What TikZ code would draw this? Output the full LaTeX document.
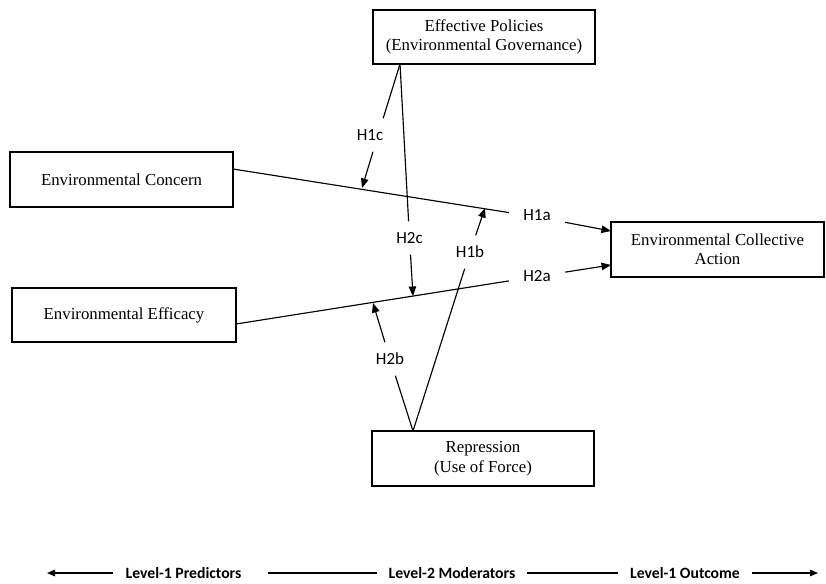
\documentclass[tikz,border=0pt]{standalone}
\usepackage{fontspec}
\setmainfont{Liberation Serif}
\newfontfamily\carlito{Carlito}
\usetikzlibrary{arrows.meta}
\begin{document}
\begin{tikzpicture}[x=1pt,y=-1pt,
  box/.style={draw, line width=1.2pt, align=center, inner sep=0pt, font=\fontsize{16.8}{19.5}\selectfont},
  lbl/.style={inner sep=0pt, minimum width=56pt, minimum height=33pt, font=\carlito\fontsize{17}{20}\selectfont},
  lvl/.style={inner xsep=12pt, inner ysep=0pt, font=\carlito\bfseries\fontsize{15.7}{18}\selectfont},
  conn/.style={line width=1.15pt},
  arr/.style={conn, -{Triangle[length=9.5pt,width=7.5pt]}},
  sarr/.style={conn, -{Triangle[length=8pt,width=6.5pt]}},
]
\useasboundingbox (0,0) rectangle (826,583);
% boxes
\node[box, minimum width=222pt, minimum height=54pt] (pol) at (484,37) {Effective Policies\\(Environmental Governance)};
\node[box, minimum width=223pt, minimum height=55pt] (con) at (121.5,179.5) {Environmental Concern};
\node[box, minimum width=224pt, minimum height=54pt] (eff) at (124,315) {Environmental Efficacy};
\node[box, minimum width=222pt, minimum height=55pt] (rep) at (483,458.5) {Repression\\(Use of Force)};
\node[box, minimum width=213pt, minimum height=55pt] (eca) at (717.5,249.5) {Environmental Collective\\Action};
% attachment points
\coordinate (pols) at (400,64);
\coordinate (cons) at (233,169);
\coordinate (effs) at (236,324);
\coordinate (reps) at (413,431);
\coordinate (t1a) at (611,231);
\coordinate (t2a) at (611,265);
\coordinate (t1c) at (362,188);
\coordinate (t2c) at (413,296);
\coordinate (t1b) at (485,208);
\coordinate (t2b) at (373,303);
% labels
\node[lbl] (h1a) at (537,217) {\raisebox{4pt}{H1a}};
\node[lbl] (h2a) at (537,276.5) {H2a};
\node[lbl] (h1c) at (378,135) {\hspace*{-16pt}H1c};
\node[lbl] (h2c) at (409.5,238) {H2c};
\node[lbl] (h1b) at (470,252) {H1b};
\node[lbl] (h2b) at (390,359) {H2b};
% main paths
\draw[conn] (cons) -- (h1a);
\draw[arr] (h1a) -- (t1a);
\draw[conn] (effs) -- (h2a);
\draw[arr] (h2a) -- (t2a);
% moderators
\draw[conn] (pols) -- (h1c);
\draw[arr] (h1c) -- (t1c);
\draw[conn] (pols) -- (h2c);
\draw[arr] (h2c) -- (t2c);
\draw[conn] (reps) -- (h1b);
\draw[arr] (h1b) -- (t1b);
\draw[conn] (reps) -- (h2b);
\draw[arr] (h2b) -- (t2b);
% bottom levels
\node[lvl] (lv1) at (183.5,573) {Level-1 Predictors};
\node[lvl] (lv2) at (452,573) {Level-2 Moderators};
\node[lvl] (lv3) at (685,573) {Level-1 Outcome};
\coordinate (la) at (47,573);
\coordinate (ra) at (818,573);
\draw[sarr] (lv1) -- (la);
\draw[conn, shorten <=14pt] (lv1) -- (lv2);
\draw[conn] (lv2) -- (lv3);
\draw[sarr] (lv3) -- (ra);
\end{tikzpicture}
\end{document}
